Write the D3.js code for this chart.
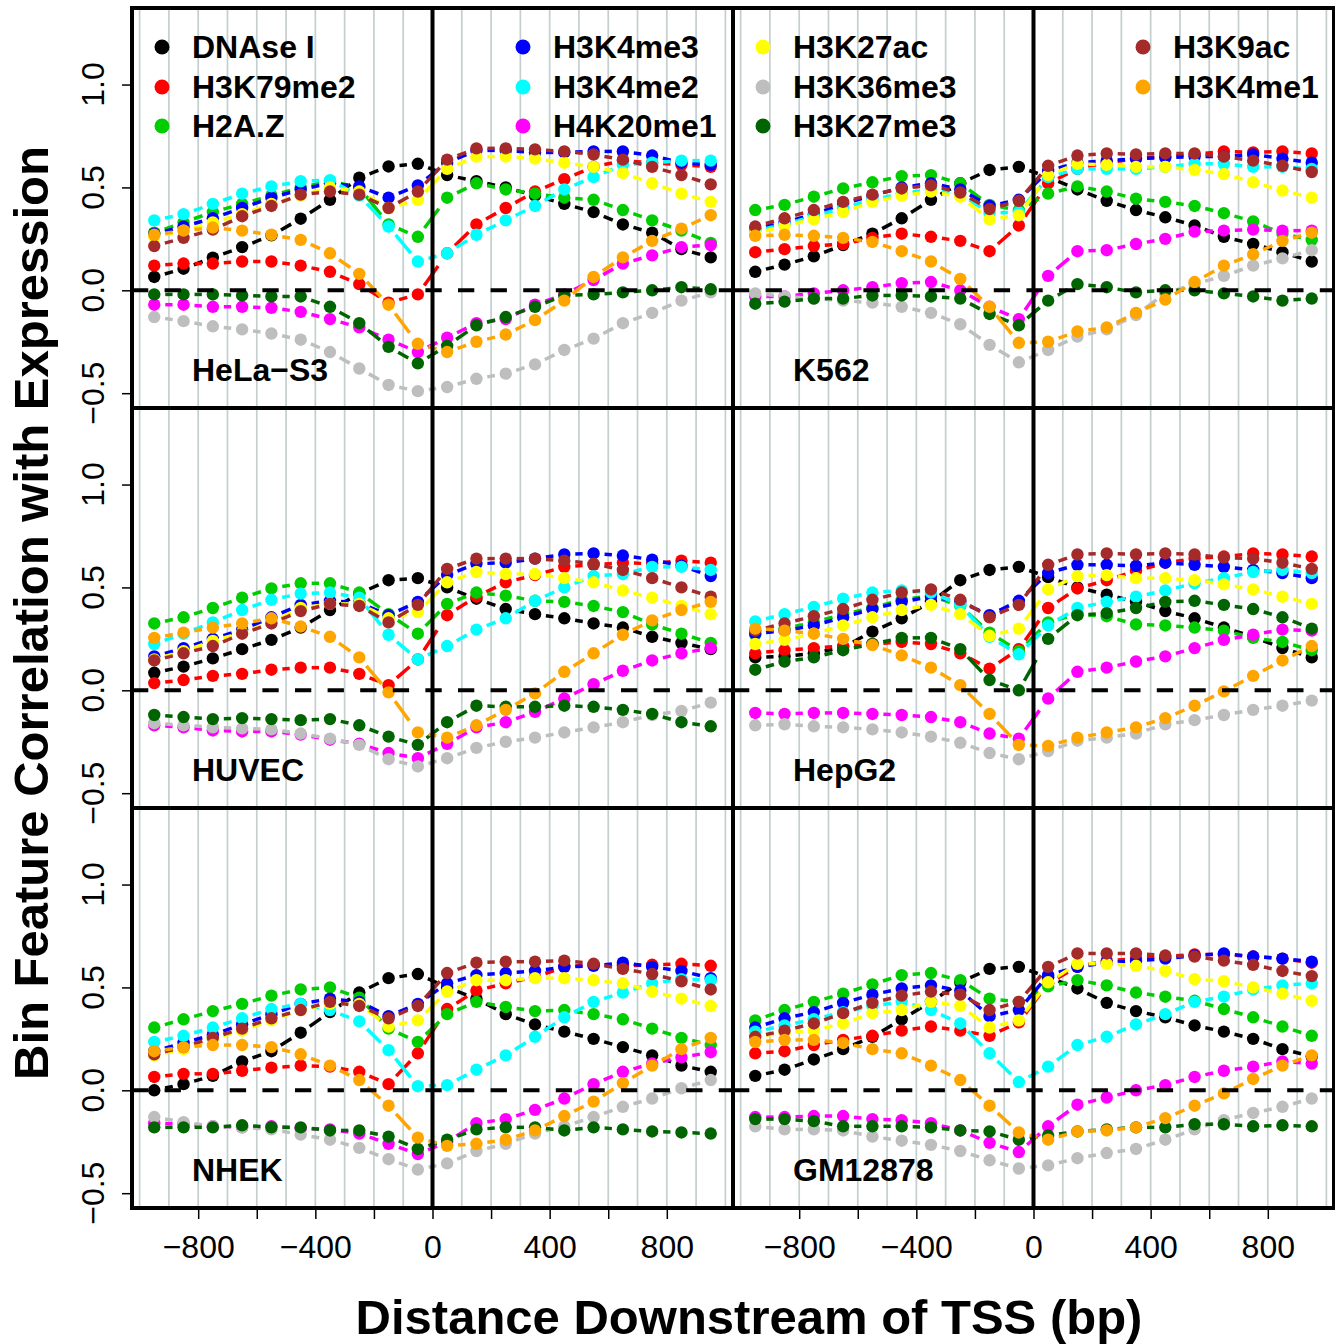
<!DOCTYPE html>
<html>
<head>
<meta charset="utf-8">
<script src="https://cdn.jsdelivr.net/npm/d3@7"></script>
<style>
body { margin: 0; background: #fff; }
svg { display: block; font-family: "Liberation Sans", Arial, sans-serif; }
</style>
</head>
<body>
<svg width="1335" height="1344"></svg>
<script>
// bin centres (bp downstream of TSS)
const bins = [-950, -850, -750, -650, -550, -450, -350, -250, -150, -50,
              50, 150, 250, 350, 450, 550, 650, 750, 850, 950];

const marks = ['DNAse I', 'H3K79me2', 'H2A.Z', 'H3K4me3', 'H3K4me2', 'H4K20me1',
               'H3K27ac', 'H3K36me3', 'H3K27me3', 'H3K9ac', 'H3K4me1'];
const markColors = ['#000000', '#ff0000', '#00cd00', '#0000ff', '#00ffff', '#ff00ff',
                    '#ffff00', '#bebebe', '#006400', '#a52a2a', '#ffa500'];

const cellLines = ['HeLa\u2212S3', 'K562', 'HUVEC', 'HepG2', 'NHEK', 'GM12878'];

// one row per mark, same order as marks
const HeLa_S3 = [
  [0.065, 0.105, 0.159, 0.21, 0.267, 0.348, 0.44, 0.547, 0.602, 0.615, 0.56, 0.53, 0.50, 0.46, 0.42, 0.38, 0.32, 0.28, 0.20, 0.16],
  [0.12, 0.13, 0.13, 0.14, 0.14, 0.12, 0.09, 0.03, -0.06, -0.02, 0.18, 0.32, 0.40, 0.48, 0.54, 0.60, 0.63, 0.62, 0.61, 0.60],
  [0.28, 0.33, 0.38, 0.42, 0.46, 0.50, 0.53, 0.50, 0.32, 0.26, 0.45, 0.52, 0.49, 0.47, 0.45, 0.44, 0.39, 0.34, 0.29, 0.23],
  [0.275, 0.31, 0.35, 0.40, 0.45, 0.49, 0.52, 0.505, 0.45, 0.51, 0.62, 0.68, 0.68, 0.67, 0.67, 0.675, 0.675, 0.655, 0.62, 0.61],
  [0.34, 0.37, 0.42, 0.47, 0.505, 0.53, 0.535, 0.46, 0.31, 0.14, 0.18, 0.27, 0.34, 0.41, 0.49, 0.55, 0.61, 0.62, 0.63, 0.63],
  [-0.07, -0.07, -0.08, -0.08, -0.085, -0.105, -0.14, -0.18, -0.24, -0.30, -0.23, -0.16, -0.14, -0.07, -0.02, 0.05, 0.13, 0.17, 0.21, 0.22],
  [0.26, 0.29, 0.33, 0.37, 0.42, 0.46, 0.50, 0.48, 0.40, 0.44, 0.59, 0.65, 0.65, 0.64, 0.62, 0.60, 0.57, 0.52, 0.47, 0.43],
  [-0.13, -0.15, -0.175, -0.19, -0.21, -0.24, -0.30, -0.38, -0.46, -0.49, -0.47, -0.43, -0.405, -0.36, -0.29, -0.235, -0.16, -0.11, -0.05, -0.01],
  [-0.02, -0.02, -0.02, -0.025, -0.03, -0.03, -0.08, -0.16, -0.275, -0.355, -0.27, -0.17, -0.13, -0.08, -0.025, -0.02, -0.01, 0.0, 0.015, 0.005],
  [0.215, 0.255, 0.295, 0.36, 0.41, 0.465, 0.48, 0.465, 0.40, 0.48, 0.635, 0.69, 0.69, 0.685, 0.675, 0.66, 0.635, 0.60, 0.56, 0.515],
  [0.27, 0.29, 0.305, 0.29, 0.27, 0.245, 0.18, 0.08, -0.07, -0.26, -0.30, -0.25, -0.215, -0.145, -0.05, 0.065, 0.16, 0.24, 0.30, 0.365]
];
const K562 = [
  [0.09, 0.125, 0.165, 0.22, 0.275, 0.35, 0.44, 0.52, 0.585, 0.60, 0.55, 0.49, 0.435, 0.39, 0.355, 0.315, 0.26, 0.225, 0.185, 0.14],
  [0.185, 0.20, 0.215, 0.225, 0.255, 0.275, 0.26, 0.24, 0.19, 0.315, 0.52, 0.59, 0.62, 0.64, 0.65, 0.66, 0.675, 0.67, 0.675, 0.665],
  [0.39, 0.415, 0.455, 0.495, 0.525, 0.555, 0.56, 0.52, 0.415, 0.39, 0.47, 0.505, 0.48, 0.445, 0.43, 0.41, 0.375, 0.335, 0.275, 0.245],
  [0.30, 0.33, 0.37, 0.42, 0.46, 0.50, 0.52, 0.49, 0.41, 0.44, 0.58, 0.62, 0.63, 0.64, 0.645, 0.65, 0.65, 0.66, 0.64, 0.62],
  [0.29, 0.32, 0.36, 0.40, 0.44, 0.47, 0.49, 0.47, 0.375, 0.38, 0.55, 0.59, 0.59, 0.59, 0.60, 0.615, 0.615, 0.60, 0.60, 0.59],
  [-0.03, -0.03, -0.015, 0.0, 0.015, 0.035, 0.04, 0.0, -0.08, -0.14, 0.07, 0.19, 0.195, 0.225, 0.25, 0.285, 0.29, 0.295, 0.29, 0.29],
  [0.275, 0.315, 0.345, 0.38, 0.43, 0.46, 0.48, 0.455, 0.345, 0.365, 0.56, 0.615, 0.61, 0.60, 0.60, 0.585, 0.565, 0.525, 0.485, 0.45],
  [-0.015, -0.03, -0.04, -0.05, -0.06, -0.08, -0.11, -0.165, -0.265, -0.35, -0.29, -0.225, -0.19, -0.12, -0.015, 0.03, 0.07, 0.12, 0.155, 0.195],
  [-0.065, -0.055, -0.04, -0.04, -0.025, -0.025, -0.03, -0.04, -0.115, -0.17, -0.05, 0.03, 0.015, -0.01, 0.0, 0.0, -0.015, -0.03, -0.05, -0.04],
  [0.31, 0.35, 0.39, 0.43, 0.465, 0.495, 0.51, 0.475, 0.395, 0.435, 0.605, 0.655, 0.665, 0.66, 0.665, 0.665, 0.65, 0.63, 0.605, 0.575],
  [0.265, 0.27, 0.265, 0.255, 0.235, 0.19, 0.14, 0.055, -0.08, -0.255, -0.25, -0.20, -0.18, -0.11, -0.045, 0.04, 0.12, 0.175, 0.24, 0.28]
];
const HUVEC = [
  [0.085, 0.115, 0.155, 0.20, 0.245, 0.305, 0.39, 0.47, 0.535, 0.545, 0.50, 0.445, 0.395, 0.37, 0.35, 0.325, 0.305, 0.26, 0.23, 0.20],
  [0.035, 0.05, 0.07, 0.08, 0.10, 0.11, 0.11, 0.08, 0.025, 0.15, 0.365, 0.455, 0.525, 0.56, 0.60, 0.61, 0.62, 0.615, 0.63, 0.62],
  [0.325, 0.355, 0.40, 0.45, 0.495, 0.52, 0.52, 0.475, 0.37, 0.275, 0.42, 0.475, 0.46, 0.435, 0.43, 0.41, 0.38, 0.32, 0.275, 0.23],
  [0.165, 0.205, 0.25, 0.295, 0.355, 0.415, 0.435, 0.425, 0.365, 0.43, 0.56, 0.615, 0.62, 0.64, 0.66, 0.665, 0.655, 0.635, 0.605, 0.555],
  [0.225, 0.275, 0.33, 0.39, 0.44, 0.47, 0.475, 0.45, 0.27, 0.15, 0.215, 0.295, 0.35, 0.435, 0.50, 0.555, 0.565, 0.60, 0.60, 0.585],
  [-0.17, -0.18, -0.195, -0.20, -0.20, -0.215, -0.24, -0.26, -0.305, -0.33, -0.26, -0.18, -0.155, -0.105, -0.04, 0.03, 0.095, 0.145, 0.18, 0.205],
  [0.15, 0.19, 0.24, 0.28, 0.33, 0.40, 0.42, 0.42, 0.35, 0.38, 0.525, 0.575, 0.565, 0.565, 0.545, 0.525, 0.485, 0.45, 0.41, 0.37],
  [-0.16, -0.17, -0.18, -0.185, -0.19, -0.21, -0.235, -0.265, -0.335, -0.37, -0.33, -0.28, -0.25, -0.23, -0.205, -0.18, -0.155, -0.12, -0.10, -0.06],
  [-0.12, -0.13, -0.14, -0.135, -0.14, -0.145, -0.14, -0.17, -0.225, -0.265, -0.155, -0.075, -0.08, -0.08, -0.075, -0.08, -0.095, -0.115, -0.155, -0.175],
  [0.145, 0.18, 0.215, 0.275, 0.325, 0.385, 0.42, 0.41, 0.33, 0.415, 0.59, 0.64, 0.64, 0.64, 0.63, 0.615, 0.585, 0.545, 0.50, 0.455],
  [0.255, 0.28, 0.305, 0.325, 0.35, 0.31, 0.26, 0.16, -0.01, -0.205, -0.23, -0.17, -0.095, -0.015, 0.09, 0.18, 0.27, 0.34, 0.39, 0.43]
];
const HepG2 = [
  [0.16, 0.165, 0.18, 0.21, 0.285, 0.35, 0.43, 0.535, 0.585, 0.60, 0.55, 0.50, 0.465, 0.43, 0.385, 0.35, 0.305, 0.26, 0.205, 0.16],
  [0.18, 0.195, 0.205, 0.215, 0.225, 0.235, 0.225, 0.18, 0.105, 0.20, 0.40, 0.495, 0.535, 0.58, 0.62, 0.64, 0.65, 0.665, 0.66, 0.65],
  [0.27, 0.30, 0.33, 0.37, 0.40, 0.44, 0.46, 0.41, 0.28, 0.19, 0.33, 0.37, 0.36, 0.32, 0.315, 0.305, 0.29, 0.255, 0.235, 0.195],
  [0.275, 0.29, 0.315, 0.355, 0.395, 0.43, 0.455, 0.43, 0.365, 0.435, 0.57, 0.61, 0.61, 0.605, 0.62, 0.61, 0.60, 0.585, 0.57, 0.545],
  [0.335, 0.37, 0.405, 0.445, 0.475, 0.485, 0.475, 0.415, 0.26, 0.175, 0.315, 0.40, 0.43, 0.455, 0.485, 0.52, 0.545, 0.575, 0.585, 0.57],
  [-0.11, -0.115, -0.11, -0.11, -0.115, -0.12, -0.13, -0.155, -0.21, -0.235, -0.04, 0.09, 0.11, 0.14, 0.165, 0.205, 0.245, 0.27, 0.295, 0.29],
  [0.225, 0.245, 0.275, 0.315, 0.355, 0.39, 0.415, 0.37, 0.265, 0.30, 0.49, 0.555, 0.56, 0.545, 0.545, 0.535, 0.515, 0.49, 0.455, 0.42],
  [-0.17, -0.165, -0.175, -0.18, -0.19, -0.205, -0.225, -0.255, -0.305, -0.335, -0.295, -0.245, -0.23, -0.21, -0.165, -0.145, -0.12, -0.095, -0.075, -0.05],
  [0.10, 0.14, 0.16, 0.195, 0.225, 0.255, 0.255, 0.20, 0.05, 0.0, 0.25, 0.365, 0.375, 0.40, 0.43, 0.435, 0.415, 0.395, 0.355, 0.30],
  [0.29, 0.325, 0.36, 0.395, 0.44, 0.475, 0.49, 0.44, 0.355, 0.415, 0.61, 0.66, 0.665, 0.66, 0.665, 0.66, 0.645, 0.64, 0.62, 0.59],
  [0.30, 0.29, 0.275, 0.25, 0.22, 0.17, 0.11, 0.025, -0.115, -0.265, -0.27, -0.23, -0.205, -0.18, -0.135, -0.075, -0.005, 0.07, 0.145, 0.215]
];
const NHEK = [
  [0.0, 0.03, 0.07, 0.14, 0.19, 0.28, 0.38, 0.475, 0.545, 0.565, 0.50, 0.445, 0.37, 0.32, 0.285, 0.25, 0.21, 0.17, 0.12, 0.09],
  [0.065, 0.08, 0.08, 0.095, 0.11, 0.12, 0.115, 0.09, 0.03, 0.18, 0.395, 0.485, 0.52, 0.55, 0.60, 0.61, 0.605, 0.61, 0.615, 0.605],
  [0.305, 0.345, 0.385, 0.42, 0.46, 0.49, 0.50, 0.45, 0.30, 0.235, 0.37, 0.43, 0.405, 0.385, 0.39, 0.37, 0.345, 0.30, 0.255, 0.22],
  [0.19, 0.23, 0.27, 0.32, 0.37, 0.42, 0.445, 0.43, 0.36, 0.42, 0.52, 0.56, 0.57, 0.58, 0.60, 0.605, 0.62, 0.60, 0.58, 0.545],
  [0.235, 0.265, 0.305, 0.35, 0.395, 0.42, 0.39, 0.335, 0.195, 0.02, 0.025, 0.10, 0.17, 0.26, 0.355, 0.43, 0.475, 0.52, 0.54, 0.535],
  [-0.16, -0.165, -0.175, -0.18, -0.175, -0.185, -0.19, -0.21, -0.26, -0.31, -0.25, -0.16, -0.14, -0.095, -0.04, 0.03, 0.09, 0.13, 0.16, 0.185],
  [0.17, 0.20, 0.25, 0.29, 0.34, 0.39, 0.42, 0.42, 0.31, 0.34, 0.48, 0.535, 0.535, 0.545, 0.545, 0.535, 0.52, 0.48, 0.445, 0.41],
  [-0.13, -0.155, -0.175, -0.18, -0.19, -0.215, -0.24, -0.28, -0.335, -0.385, -0.355, -0.295, -0.26, -0.21, -0.175, -0.13, -0.08, -0.04, 0.01, 0.05],
  [-0.18, -0.18, -0.18, -0.17, -0.18, -0.18, -0.195, -0.195, -0.225, -0.285, -0.24, -0.19, -0.18, -0.18, -0.195, -0.18, -0.19, -0.20, -0.205, -0.21],
  [0.175, 0.21, 0.255, 0.30, 0.35, 0.39, 0.43, 0.41, 0.35, 0.41, 0.57, 0.62, 0.625, 0.625, 0.63, 0.615, 0.59, 0.565, 0.53, 0.49],
  [0.19, 0.21, 0.22, 0.22, 0.21, 0.175, 0.12, 0.05, -0.075, -0.23, -0.27, -0.26, -0.24, -0.195, -0.125, -0.055, 0.035, 0.12, 0.20, 0.255]
];
const GM12878 = [
  [0.07, 0.10, 0.15, 0.20, 0.26, 0.345, 0.43, 0.525, 0.59, 0.60, 0.55, 0.495, 0.425, 0.385, 0.355, 0.315, 0.285, 0.25, 0.20, 0.165],
  [0.18, 0.19, 0.22, 0.245, 0.265, 0.29, 0.31, 0.29, 0.265, 0.33, 0.52, 0.60, 0.63, 0.64, 0.65, 0.66, 0.66, 0.65, 0.64, 0.62],
  [0.34, 0.39, 0.43, 0.47, 0.515, 0.56, 0.57, 0.535, 0.445, 0.43, 0.505, 0.535, 0.51, 0.475, 0.455, 0.435, 0.395, 0.355, 0.31, 0.265],
  [0.305, 0.35, 0.38, 0.425, 0.465, 0.495, 0.51, 0.485, 0.36, 0.39, 0.56, 0.60, 0.62, 0.63, 0.64, 0.655, 0.665, 0.65, 0.64, 0.625],
  [0.285, 0.315, 0.345, 0.38, 0.41, 0.43, 0.39, 0.325, 0.18, 0.04, 0.115, 0.22, 0.26, 0.32, 0.37, 0.43, 0.455, 0.49, 0.51, 0.52],
  [-0.13, -0.13, -0.125, -0.125, -0.14, -0.145, -0.16, -0.195, -0.255, -0.30, -0.175, -0.07, -0.035, 0.0, 0.025, 0.065, 0.095, 0.115, 0.14, 0.13],
  [0.26, 0.28, 0.29, 0.325, 0.375, 0.39, 0.43, 0.41, 0.305, 0.34, 0.525, 0.615, 0.615, 0.605, 0.58, 0.54, 0.53, 0.50, 0.47, 0.435],
  [-0.175, -0.19, -0.19, -0.195, -0.225, -0.245, -0.265, -0.295, -0.34, -0.38, -0.365, -0.33, -0.305, -0.285, -0.24, -0.19, -0.145, -0.11, -0.08, -0.04],
  [-0.14, -0.14, -0.15, -0.175, -0.175, -0.175, -0.18, -0.195, -0.20, -0.24, -0.22, -0.20, -0.19, -0.18, -0.18, -0.165, -0.165, -0.175, -0.17, -0.175],
  [0.26, 0.29, 0.325, 0.375, 0.425, 0.46, 0.48, 0.465, 0.39, 0.43, 0.60, 0.665, 0.665, 0.665, 0.655, 0.65, 0.63, 0.61, 0.58, 0.555],
  [0.235, 0.245, 0.245, 0.23, 0.20, 0.18, 0.12, 0.05, -0.075, -0.205, -0.24, -0.20, -0.195, -0.18, -0.135, -0.075, -0.015, 0.055, 0.12, 0.17]
];
const panelData = [HeLa_S3, K562, HUVEC, HepG2, NHEK, GM12878];

const xTicks = [-800, -600, -400, -200, 0, 200, 400, 600, 800];
const xLabelled = [-800, -400, 0, 400, 800];
const yTicks = [-0.5, 0, 0.5, 1.0];
const gridAt = d3.range(-1000, 1001, 100).filter(d => d !== 0);

const plotLeft = 132, plotTop = 8, panelW = 601, panelH = 400;
const gap = 11;   // gap between a point and its connecting segment

const svg = d3.select('svg');
const fmtX = d3.format('d');
const fmtY = d3.format('.1f');

panelData.forEach((rows, p) => {
    const col = p % 2, row = Math.floor(p / 2);
    const x0 = plotLeft + col * panelW, y0 = plotTop + row * panelH;

    const x = d3.scaleLinear().domain([-1026, 1026]).range([x0, x0 + panelW]);
    const y = d3.scaleLinear().domain([-0.572, 1.372]).range([y0 + panelH, y0]);

    const g = svg.append('g');

    // light vertical bin boundaries
    g.selectAll('line.grid')
        .data(gridAt)
        .enter()
        .append('line')
        .attr('x1', d => x(d)).attr('x2', d => x(d))
        .attr('y1', y0).attr('y2', y0 + panelH)
        .style('stroke', '#c4cfcf')
        .style('stroke-width', 1.7);

    rows.forEach((vals, m) => {
        const pts = vals.map((v, i) => [x(bins[i]), y(v)]);
        const segs = d3.pairs(pts).map(([a, b]) => {
            const dx = b[0] - a[0], dy = b[1] - a[1], len = Math.hypot(dx, dy);
            if (len <= 2 * gap) return null;
            return {x1: a[0] + dx / len * gap, y1: a[1] + dy / len * gap,
                    x2: b[0] - dx / len * gap, y2: b[1] - dy / len * gap};
        }).filter(s => s);

        g.selectAll(null)
            .data(segs)
            .enter()
            .append('line')
            .attr('x1', s => s.x1).attr('y1', s => s.y1)
            .attr('x2', s => s.x2).attr('y2', s => s.y2)
            .style('stroke', markColors[m])
            .style('stroke-width', 3.5)
            .style('stroke-dasharray', '24,24');

        g.selectAll(null)
            .data(vals)
            .enter()
            .append('circle')
            .attr('cx', (d, i) => x(bins[i]))
            .attr('cy', d => y(d))
            .attr('r', 6.2)
            .style('fill', markColors[m]);
    });

    // zero correlation
    g.append('line')
        .attr('x1', x0).attr('x2', x0 + panelW)
        .attr('y1', y(0)).attr('y2', y(0))
        .style('stroke', 'black')
        .style('stroke-width', 4)
        .style('stroke-dasharray', '16.3,16.3');

    // TSS
    g.append('line')
        .attr('x1', x(0)).attr('x2', x(0))
        .attr('y1', y0).attr('y2', y0 + panelH)
        .style('stroke', 'black')
        .style('stroke-width', 4);

    g.append('rect')
        .attr('x', x0).attr('y', y0)
        .attr('width', panelW).attr('height', panelH)
        .style('fill', 'none')
        .style('stroke', 'black')
        .style('stroke-width', 4);

    g.append('text')
        .attr('x', x0 + 60)
        .attr('y', y0 + 362)
        .attr('dy', '0.35em')
        .style('font-size', '32px')
        .style('font-weight', 'bold')
        .text(cellLines[p]);

    // y axis on the left column only
    if (col === 0) {
        svg.append('g')
            .attr('transform', `translate(${x0},0)`)
            .call(d3.axisLeft(y).tickValues(yTicks).tickSize(10).tickFormat(''))
            .call(a => a.select('.domain').remove())
            .selectAll('line').style('stroke', 'black').style('stroke-width', 1.5);

        svg.selectAll(null)
            .data(yTicks)
            .enter()
            .append('text')
            .attr('transform', d => `translate(104,${y(d)}) rotate(-90)`)
            .attr('text-anchor', 'middle')
            .style('font-size', '32px')
            .text(d => fmtY(d));
    }

    // x axis on the bottom row only
    if (row === 2) {
        const ax = svg.append('g')
            .attr('transform', `translate(0,${y0 + panelH})`)
            .call(d3.axisBottom(x).tickValues(xTicks).tickSize(11).tickPadding(16)
                .tickFormat(d => xLabelled.includes(d) ? fmtX(d) : ''));
        ax.select('.domain').remove();
        ax.selectAll('line').style('stroke', 'black').style('stroke-width', 1.5);
        ax.selectAll('text')
            .style('font-size', '32px')
            .style('font-family', '"Liberation Sans", Arial, sans-serif')
            .style('fill', 'black');
    }
});

// legend, four columns across the top row
const legendX = [162, 523, 763, 1143];
const legendY = [47, 87, 126];
const legendItems = marks.map((m, i) => ({
    name: m, color: markColors[i],
    cx: legendX[Math.floor(i / 3)], cy: legendY[i % 3]
}));

const leg = svg.selectAll('g.legend')
    .data(legendItems)
    .enter()
    .append('g');

leg.append('circle')
    .attr('cx', d => d.cx).attr('cy', d => d.cy)
    .attr('r', 7.5)
    .style('fill', d => d.color);

leg.append('text')
    .attr('x', d => d.cx + 30).attr('y', d => d.cy)
    .attr('dy', '0.35em')
    .style('font-size', '32px')
    .style('font-weight', 'bold')
    .text(d => d.name);

svg.append('text')
    .attr('transform', 'translate(48,613) rotate(-90)')
    .attr('text-anchor', 'middle')
    .style('font-size', '49px')
    .style('font-weight', 'bold')
    .text('Bin Feature Correlation with Expression');

svg.append('text')
    .attr('x', 749).attr('y', 1334)
    .attr('text-anchor', 'middle')
    .style('font-size', '49px')
    .style('font-weight', 'bold')
    .text('Distance Downstream of TSS (bp)');
</script>
</body>
</html>
